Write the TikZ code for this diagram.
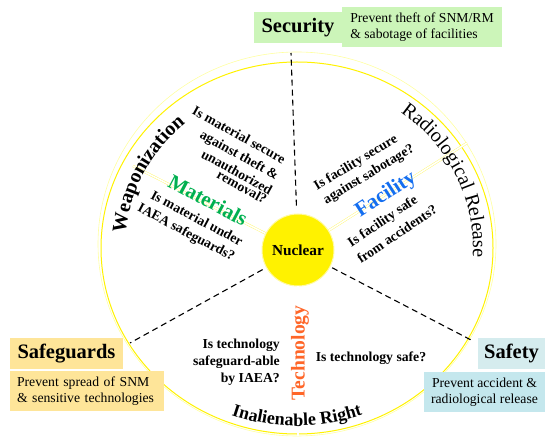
\documentclass[tikz,border=0pt]{standalone}
\usepackage{fontspec}
\setmainfont{Liberation Serif}
\usetikzlibrary{decorations.text}

\definecolor{secgreen}{RGB}{204,245,185}
\definecolor{sgyellow}{RGB}{254,229,153}
\definecolor{sftitle}{RGB}{213,236,238}
\definecolor{sfdesc}{RGB}{196,231,237}
\definecolor{matgreen}{RGB}{0,176,80}
\definecolor{facblue}{RGB}{20,110,240}
\definecolor{techorange}{RGB}{255,102,40}
\definecolor{ringpale}{RGB}{255,255,160}

\newcommand{\questfont}{\bfseries\fontsize{13.7}{16.8}\selectfont}
\newcommand{\descfont}{\fontsize{13.7}{16.5}\selectfont}
\newcommand{\boxtitlefont}{\bfseries\fontsize{20.5}{24}\selectfont}
\newcommand{\sectorfont}{\bfseries\fontsize{21}{24}\selectfont}

\begin{document}
\begin{tikzpicture}[x = 1pt, y = 1pt,
	titlebox/.style  = {fill = #1, inner sep = 0pt, minimum height = 31pt, font = \boxtitlefont},
	descbox/.style   = {fill = #1, inner ysep = 0pt, minimum height = 40pt, align = left, font = \descfont},
	quest/.style     = {black, inner sep = 0pt, font = \questfont},
	dashline/.style  = {black, line width = 1.1pt, dash pattern = on 6pt off 4pt},
	sectorline/.style = {draw = yellow!60, line width = 0.4pt, double = white, double distance = 1.6pt}]

	\useasboundingbox (0, 0) rectangle (545, 436);

	%%% CIRCULO %%%

	\coordinate (ctr) at (297, 188);
	\draw[ringpale, line width = 0.6pt] (297, 192) ellipse [x radius = 199, y radius = 192];
	\draw[yellow,   line width = 1pt]   (ctr) ellipse [x radius = 196, y radius = 186];

	\node[circle, fill = yellow, draw = yellow!35, line width = 1pt, minimum size = 72pt, inner sep = 0pt,
		font = \bfseries\fontsize{15.3}{18}\selectfont] (nuc) at (298, 186) {Nuclear};

	\coordinate (secEnd)  at (291, 383);
	\coordinate (sgEnd)   at (130,  93);
	\coordinate (sfEnd)   at (473,  95);
	\coordinate (matEnd)  at (133, 270);
	\coordinate (facEnd)  at (467, 293);
	\coordinate (techEnd) at (298,   0);

	\draw[sectorline] (nuc) -- (matEnd);
	\draw[sectorline] (nuc) -- (facEnd);
	\draw[sectorline] (nuc) -- (techEnd);

	\draw[dashline, shorten <= 8pt] (nuc) -- (secEnd);
	\draw[dashline, shorten <= 4pt] (nuc) -- (sgEnd);
	\draw[dashline, shorten <= 2pt] (nuc) -- (sfEnd);

	%%% TEXTO CURVO %%%

	\path[decorate, decoration = {text along path, text align = center,
		text = {|\bfseries\fontsize{20}{24}\selectfont|Weaponization}}]
		(ctr) ++(199:172 and 164) arc [start angle = 199, end angle = 107, x radius = 172, y radius = 164];
	\path[decorate, decoration = {text along path, text align = center,
		text = {|\fontsize{20}{24}\selectfont|Radiological Release}}]
		(ctr) ++(75:176 and 168) arc [start angle = 75, end angle = -25, x radius = 176, y radius = 168];
	\path[decorate, decoration = {text along path, text align = center,
		text = {|\bfseries\fontsize{18}{22}\selectfont|Inalienable Right}}]
		(ctr) ++(225:190 and 178) arc [start angle = 225, end angle = 315, x radius = 190, y radius = 178];

	%%% SETORES %%%

	\node[text = matgreen,   rotate = -28, font = \sectorfont] (mat)  at (208, 236) {Materials};
	\node[text = facblue,    rotate =  33, font = \sectorfont] (fac)  at (386, 241) {Facility};
	\node[text = techorange, rotate =  90, font = \bfseries\fontsize{19.6}{22}\selectfont] (tech) at (300, 83) {Technology};

	\node[quest, rotate = -29] (q1a) at (239, 301) {Is material secure};
	\node[quest, rotate = -29] (q1b) at (239, 280) {against theft \&};
	\node[quest, rotate = -29] (q1c) at (237, 264) {unauthorized};
	\node[quest, rotate = -29] (q1d) at (242, 249) {removal?};

	\node[quest, rotate = -28] (q2a) at (197, 218) {Is material under};
	\node[quest, rotate = -28] (q2b) at (186, 203) {IAEA safeguards?};

	\node[quest, rotate = 31] (q3a) at (356, 273) {Is facility secure};
	\node[quest, rotate = 31] (q3b) at (369, 261) {against sabotage?};

	\node[quest, rotate = 34] (q4a) at (383, 214) {Is facility safe};
	\node[quest, rotate = 34] (q4b) at (397, 202) {from accidents?};

	\node[quest, align = right, anchor = east] (q5) at (280, 74) {Is technology\\safeguard-able\\by IAEA?};
	\node[quest] (q6) at (371, 78) {Is technology safe?};

	%%% CAIXAS %%%

	\node[titlebox = secgreen, minimum width = 88pt] (sec) at (298, 408) {Security};
	\node[descbox = secgreen, minimum width = 160pt] (secDesc) at (422, 409)
		{Prevent theft of SNM/RM\\\& sabotage of facilities};

	\node[titlebox = sgyellow, minimum width = 113pt] (sg) at (66.5, 82.5) {Safeguards};
	\node[descbox = sgyellow, text width = 140pt, inner xsep = 7pt] (sgDesc) at (87, 45)
		{Prevent spread of SNM\\\& sensitive technologies};

	\node[titlebox = sftitle, minimum width = 67pt] (sf) at (511.5, 82.5) {Safety};
	\node[descbox = sfdesc, align = center, minimum width = 121pt] (sfDesc) at (484.5, 44)
		{Prevent accident \&\\radiological release};

\end{tikzpicture}
\end{document}
